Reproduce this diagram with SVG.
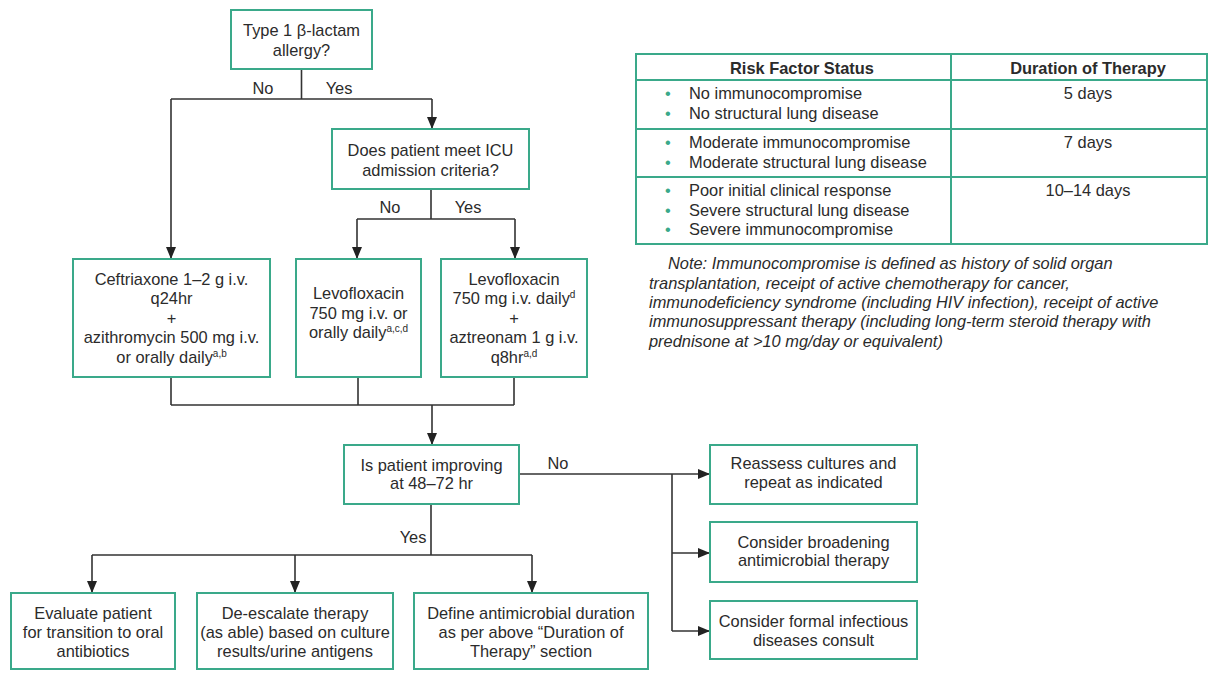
<svg xmlns="http://www.w3.org/2000/svg" width="1212" height="682" viewBox="0 0 1212 682">
<defs>
<style>
.box{fill:#fff;stroke:#3aa98a;stroke-width:2}
.t{font-family:"Liberation Sans",Arial,sans-serif;font-size:16.4px;fill:#2b2b2b;text-anchor:middle}
.l{font-family:"Liberation Sans",Arial,sans-serif;font-size:16.4px;fill:#2b2b2b}
.b{font-weight:bold}
.it{font-style:italic}
.sup{font-size:10px}
.bul{fill:#3aa98a}
.c{fill:none;stroke:#333;stroke-width:1.6}
.a{marker-end:url(#arr)}
.tb{fill:none;stroke:#3aa98a;stroke-width:2}
</style>
<marker id="arr" viewBox="0 0 12 10" refX="12" refY="5" markerWidth="12" markerHeight="10" markerUnits="userSpaceOnUse" orient="auto">
<path d="M0,0 L12,5 L0,10 z" fill="#222"/>
</marker>
</defs>
<rect width="1212" height="682" fill="#fff"/>

<g id="connectors">
<path class="c" d="M301.5,69 V99 M171,99 H432"/>
<path class="c a" d="M171,99 V259"/>
<path class="c a" d="M432,99 V129"/>
<path class="c" d="M431,189 V219 M357,219 H515"/>
<path class="c a" d="M357,219 V259"/>
<path class="c a" d="M515,219 V259"/>
<path class="c" d="M171,377 V405 M358,377 V405 M514,377 V405 M171,405 H514"/>
<path class="c a" d="M432,405 V445"/>
<path class="c a" d="M519,474 H710"/>
<path class="c" d="M672,474 V631"/>
<path class="c a" d="M672,553 H710"/>
<path class="c a" d="M672,631 H710"/>
<path class="c" d="M431,504 V555 M92,555 H532"/>
<path class="c a" d="M92,555 V593"/>
<path class="c a" d="M295,555 V593"/>
<path class="c a" d="M532,555 V593"/>
<text class="t" x="263" y="94">No</text>
<text class="t" x="339" y="94">Yes</text>
<text class="t" x="390" y="213">No</text>
<text class="t" x="468" y="213">Yes</text>
<text class="t" x="558" y="469">No</text>
<text class="t" x="413" y="543">Yes</text>
</g>

<g id="allergy">
<rect class="box" x="231" y="10" width="141" height="59"/>
<text class="t" x="301.5" y="36">Type 1 β-lactam</text>
<text class="t" x="301.5" y="55.5">allergy?</text>
</g>

<g id="icu">
<rect class="box" x="332" y="129" width="197" height="60"/>
<text class="t" x="430.5" y="156">Does patient meet ICU</text>
<text class="t" x="430.5" y="175.5">admission criteria?</text>
</g>

<g id="ceftriaxone">
<rect class="box" x="73" y="259" width="197" height="118"/>
<text class="t" x="171.5" y="285">Ceftriaxone 1–2 g i.v.</text>
<text class="t" x="171.5" y="304">q24hr</text>
<text class="t" x="171.5" y="324">+</text>
<text class="t" x="171.5" y="343">azithromycin 500 mg i.v.</text>
<text class="t" x="171.5" y="363">or orally daily<tspan class="sup" dy="-6">a,b</tspan></text>
</g>

<g id="levo1">
<rect class="box" x="296" y="259" width="125" height="118"/>
<text class="t" x="358.5" y="299">Levofloxacin</text>
<text class="t" x="358.5" y="319">750 mg i.v. or</text>
<text class="t" x="358.5" y="338">orally daily<tspan class="sup" dy="-6">a,c,d</tspan></text>
</g>

<g id="levo2">
<rect class="box" x="441" y="259" width="146" height="118"/>
<text class="t" x="514" y="285">Levofloxacin</text>
<text class="t" x="514" y="304">750 mg i.v. daily<tspan class="sup" dy="-6">d</tspan></text>
<text class="t" x="514" y="324">+</text>
<text class="t" x="514" y="343">aztreonam 1 g i.v.</text>
<text class="t" x="514" y="363">q8hr<tspan class="sup" dy="-6">a,d</tspan></text>
</g>

<g id="improving">
<rect class="box" x="344" y="445" width="175" height="59"/>
<text class="t" x="431.5" y="471">Is patient improving</text>
<text class="t" x="431.5" y="489">at 48–72 hr</text>
</g>

<g id="evaluate">
<rect class="box" x="11" y="593" width="164" height="76"/>
<text class="t" x="93" y="619">Evaluate patient</text>
<text class="t" x="93" y="638">for transition to oral</text>
<text class="t" x="93" y="657">antibiotics</text>
</g>

<g id="deescalate">
<rect class="box" x="197" y="593" width="196" height="76"/>
<text class="t" x="295" y="619">De-escalate therapy</text>
<text class="t" x="295" y="638">(as able) based on culture</text>
<text class="t" x="295" y="657">results/urine antigens</text>
</g>

<g id="define">
<rect class="box" x="414" y="593" width="234" height="76"/>
<text class="t" x="531" y="619">Define antimicrobial duration</text>
<text class="t" x="531" y="638">as per above “Duration of</text>
<text class="t" x="531" y="657">Therapy” section</text>
</g>

<g id="reassess">
<rect class="box" x="710" y="445" width="207" height="59"/>
<text class="t" x="813.5" y="469">Reassess cultures and</text>
<text class="t" x="813.5" y="488">repeat as indicated</text>
</g>

<g id="broaden">
<rect class="box" x="710" y="522" width="207" height="60"/>
<text class="t" x="813.5" y="548">Consider broadening</text>
<text class="t" x="813.5" y="566">antimicrobial therapy</text>
</g>

<g id="consult">
<rect class="box" x="710" y="601" width="207" height="58"/>
<text class="t" x="813.5" y="627">Consider formal infectious</text>
<text class="t" x="813.5" y="646">diseases consult</text>
</g>

<g id="table">
<rect class="tb" x="636" y="54" width="571" height="190"/>
<path class="tb" d="M636,80 H1207 M636,129 H1207 M636,177 H1207 M951,54 V244"/>
<text class="t b" x="802" y="74">Risk Factor Status</text>
<text class="t b" x="1088" y="74">Duration of Therapy</text>
<g class="l">
<text class="l bul" x="665" y="99">•</text><text class="l" x="689" y="99">No immunocompromise</text>
<text class="l bul" x="665" y="119">•</text><text class="l" x="689" y="119">No structural lung disease</text>
<text class="l bul" x="665" y="148">•</text><text class="l" x="689" y="148">Moderate immunocompromise</text>
<text class="l bul" x="665" y="168">•</text><text class="l" x="689" y="168">Moderate structural lung disease</text>
<text class="l bul" x="665" y="196">•</text><text class="l" x="689" y="196">Poor initial clinical response</text>
<text class="l bul" x="665" y="216">•</text><text class="l" x="689" y="216">Severe structural lung disease</text>
<text class="l bul" x="665" y="235">•</text><text class="l" x="689" y="235">Severe immunocompromise</text>
</g>
<text class="t" x="1088" y="99">5 days</text>
<text class="t" x="1088" y="148">7 days</text>
<text class="t" x="1088" y="196">10–14 days</text>
</g>

<g id="note">
<text class="l it" x="668" y="269">Note: Immunocompromise is defined as history of solid organ</text>
<text class="l it" x="649" y="289">transplantation, receipt of active chemotherapy for cancer,</text>
<text class="l it" x="649" y="308">immunodeficiency syndrome (including HIV infection), receipt of active</text>
<text class="l it" x="649" y="327">immunosuppressant therapy (including long-term steroid therapy with</text>
<text class="l it" x="649" y="347">prednisone at &gt;10 mg/day or equivalent)</text>
</g>
</svg>
